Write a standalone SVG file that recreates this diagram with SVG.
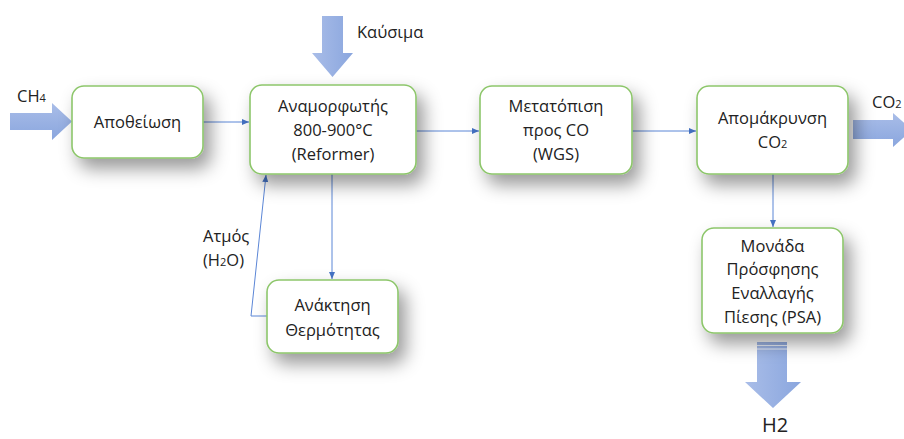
<svg xmlns="http://www.w3.org/2000/svg" width="904" height="439" viewBox="0 0 904 439">
<style>
.box{fill:#fff;stroke:#8DC66B;stroke-width:1.6;filter:url(#sh)}
.t{font-family:"Open Sans","Liberation Sans",sans-serif;font-size:16.5px;fill:#222;text-anchor:middle}
.l{font-family:"Open Sans","Liberation Sans",sans-serif;font-size:16.5px;fill:#222}
.c{fill:none;stroke:#5B86D6;stroke-width:1;marker-end:url(#ah)}
.big{fill:url(#g);stroke:none}
.bigv{fill:url(#gv);stroke:none}
</style>
<defs>
<filter id="sh" x="-30%" y="-30%" width="170%" height="180%">
<feDropShadow dx="7" dy="10" stdDeviation="9" flood-color="#000" flood-opacity="0.4"/>
</filter>
<marker id="ah" markerWidth="8" markerHeight="8" refX="7" refY="4" orient="auto" markerUnits="userSpaceOnUse">
<path d="M0,1 L7,4 L0,7 Z" fill="#4472C4"/>
</marker>
<linearGradient id="g" x1="0" y1="0" x2="0" y2="1">
<stop offset="0" stop-color="#A9BDE8"/><stop offset="1" stop-color="#8AA6DE"/>
</linearGradient>
<linearGradient id="gv" x1="0" y1="0" x2="1" y2="0">
<stop offset="0" stop-color="#A9BDE8"/><stop offset="1" stop-color="#8AA6DE"/>
</linearGradient>
</defs>
<rect width="904" height="439" fill="#fff"/>

<g id="connectors">
<line class="c" x1="203" y1="122" x2="249" y2="122"/>
<line class="c" x1="416" y1="131" x2="479" y2="131"/>
<line class="c" x1="632" y1="131" x2="696" y2="131"/>
<line class="c" x1="773" y1="174" x2="773" y2="227"/>
<line class="c" x1="332" y1="174" x2="332" y2="279"/>
<polyline class="c" points="267,316 251,316 266,175"/>
</g>

<g id="arrow-ch4"><path class="big" d="M10,113 H52 V103 L72,121.5 L52,140 V130 H10 Z"/><text class="l" x="17" y="102">CH<tspan font-size="11">4</tspan></text></g>
<g id="arrow-fuel"><path class="bigv" d="M322,16 H343 V53 H353 L332.5,77 L312,53 H322 Z"/><text class="l" x="357" y="38">Καύσιμα</text></g>
<g id="arrow-co2"><path class="big" d="M853,120 H893 V113 L912,130 L893,147 V139 H853 Z"/><text class="l" x="872" y="108">CO<tspan font-size="11">2</tspan></text></g>
<g id="arrow-h2"><path class="bigv" d="M757,342 H787 V382 H801 L773,408 L745,382 H757 Z"/><line x1="757" y1="345.5" x2="787" y2="345.5" stroke="#fff" stroke-width="0.8"/><line x1="757" y1="349" x2="787" y2="349" stroke="#fff" stroke-width="0.8"/><text class="l" x="762" y="432" style="font-size:20px">H2</text></g>

<g id="n-desulf"><rect class="box" x="72" y="86" width="131" height="72" rx="12"/><text class="t" x="137.5" y="128">Αποθείωση</text></g>
<g id="n-reformer"><rect class="box" x="250" y="85" width="166" height="89" rx="12"/><text class="t" x="333" y="112">Αναμορφωτής</text><text class="t" x="333" y="136">800-900°C</text><text class="t" x="333" y="160">(Reformer)</text></g>
<g id="n-wgs"><rect class="box" x="480" y="86" width="152" height="88" rx="12"/><text class="t" x="556" y="112">Μετατόπιση</text><text class="t" x="556" y="136">προς CO</text><text class="t" x="556" y="160">(WGS)</text></g>
<g id="n-co2rem"><rect class="box" x="697" y="86" width="151" height="88" rx="12"/><text class="t" x="772.5" y="124">Απομάκρυνση</text><text class="t" x="772.5" y="148">CO<tspan font-size="11">2</tspan></text></g>
<g id="n-heat"><rect class="box" x="267" y="280" width="131" height="73" rx="12"/><text class="t" x="332.5" y="311">Ανάκτηση</text><text class="t" x="332.5" y="336">Θερμότητας</text></g>
<g id="n-psa"><rect class="box" x="702" y="228" width="141" height="105" rx="12"/><text class="t" x="772.5" y="252">Μονάδα</text><text class="t" x="772.5" y="275">Πρόσφησης</text><text class="t" x="772.5" y="299">Εναλλαγής</text><text class="t" x="772.5" y="323">Πίεσης (PSA)</text></g>

<g id="label-steam"><text class="l" x="203" y="242">Ατμός</text><text class="l" x="203" y="266">(H<tspan font-size="11">2</tspan>O)</text></g>
</svg>
